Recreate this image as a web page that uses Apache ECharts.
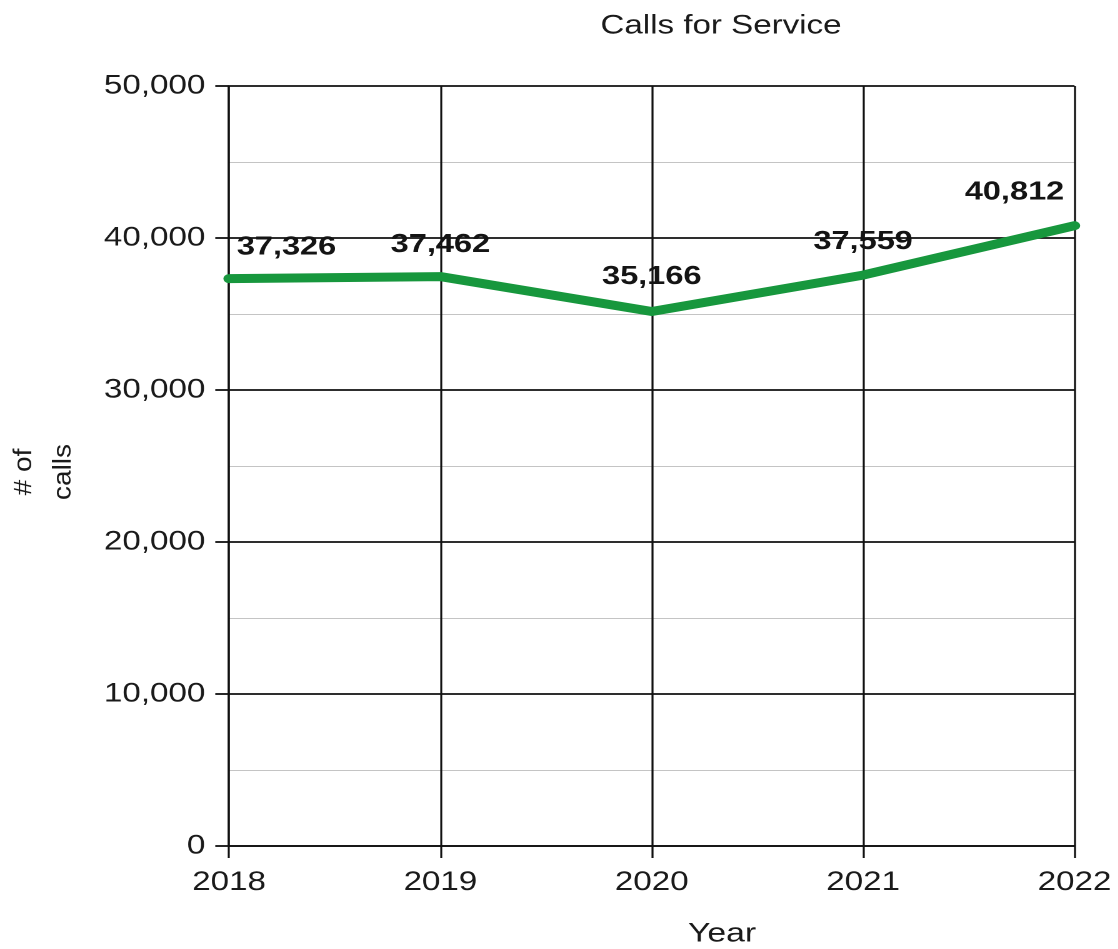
<!DOCTYPE html>
<html>
<head>
<meta charset="utf-8">
<title>Calls for Service</title>
<script src="https://cdn.jsdelivr.net/npm/echarts@6/dist/echarts.min.js"></script>
<style>
  html, body { margin: 0; padding: 0; background: #ffffff; overflow: hidden; }
  /* The chart uses a wide typeface look: draw it narrower, then widen it horizontally. */
  #chart {
    width: 894.4px;
    height: 949px;
    transform: scaleX(1.25);
    transform-origin: 0 0;
  }
</style>
</head>
<body>
<div id="chart"></div>
<script>
// Yearly calls for service
const years = ['2018', '2019', '2020', '2021', '2022'];
const calls = [37326, 37462, 35166, 37559, 40812];

// Value axis range and step
const yMin = 0;
const yMax = 50000;
const yStep = 10000;

// Text
const chartTitle = 'Calls for Service';
const xName = 'Year';
const yName = '# of\ncalls';

// Label nudges so end labels stay inside the plot
const labelOffsets = [[46, 3], [0, 3], [0, 0], [0, 1], [-48, 1]];

const FONT = '"Liberation Sans", Arial, Helvetica, sans-serif';
const fmt = v => v.toLocaleString('en-US');

const chart = echarts.init(document.getElementById('chart'), null, { devicePixelRatio: 2 });

chart.setOption({
  animation: false,
  backgroundColor: '#ffffff',
  grid: { left: 183.2, right: 34.4, top: 86, bottom: 103, containLabel: false },
  xAxis: {
    type: 'category',
    data: years,
    boundaryGap: false,
    axisLine: { show: true, lineStyle: { color: '#111', width: 1.8 } },
    axisTick: { show: true, length: 12, lineStyle: { color: '#111', width: 1.6 } },
    axisLabel: { margin: 23, fontSize: 26.5, fontFamily: FONT, color: '#1a1a1a' },
    splitLine: { show: true, lineStyle: { color: '#111', width: 1.6 } }
  },
  yAxis: {
    type: 'value',
    min: yMin,
    max: yMax,
    interval: yStep,
    axisLine: { show: true, lineStyle: { color: '#111', width: 1.6 } },
    axisTick: { show: true, length: 11, lineStyle: { color: '#111', width: 1.8 } },
    axisLabel: { margin: 19, fontSize: 26.5, fontFamily: FONT, color: '#1a1a1a', formatter: fmt },
    splitLine: { show: true, lineStyle: { color: '#111', width: 1.8 } },
    minorTick: { show: false, splitNumber: 2 },
    minorSplitLine: { show: true, lineStyle: { color: '#c4c4c4', width: 1 } }
  },
  series: [{
    type: 'line',
    data: calls.map((v, i) => ({ value: v, label: { offset: labelOffsets[i] } })),
    symbol: 'circle',
    symbolSize: 1,
    showSymbol: true,
    itemStyle: { color: '#17973d' },
    lineStyle: { color: '#17973d', width: 9, cap: 'round', join: 'round' },
    label: {
      show: true,
      position: 'top',
      distance: 21,
      fontSize: 26,
      fontWeight: 'bold',
      fontFamily: FONT,
      color: '#141414',
      formatter: p => fmt(p.value)
    },
    z: 5
  }],
  graphic: [
    {
      type: 'text',
      x: 576.8,
      y: 26,
      style: { text: chartTitle, font: '26.5px ' + FONT, fill: '#1a1a1a', align: 'center', verticalAlign: 'middle' }
    },
    {
      type: 'text',
      x: 577.6,
      y: 934,
      style: { text: xName, font: '27px ' + FONT, fill: '#1a1a1a', align: 'center', verticalAlign: 'middle' }
    },
    {
      type: 'text',
      x: 35.2,
      y: 472,
      rotation: Math.PI / 2,
      scaleX: 1.08,
      scaleY: 0.78,
      style: { text: yName, font: '26px ' + FONT, lineHeight: 40, fill: '#1a1a1a', align: 'center', verticalAlign: 'middle' }
    }
  ]
});
</script>
</body>
</html>
